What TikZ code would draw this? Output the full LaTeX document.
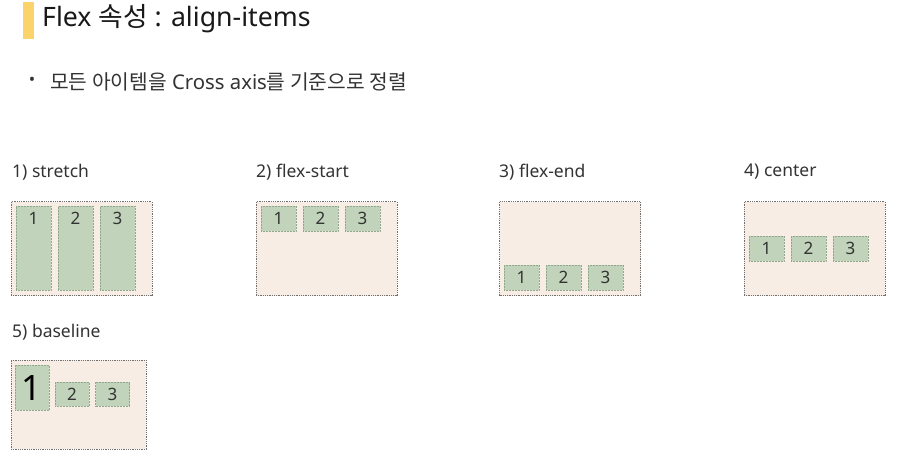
\documentclass[tikz,border=0pt]{standalone}
\usepackage{fontspec}
\setmainfont{Noto Sans}
\newfontfamily\kr{Noto Sans CJK KR}
\definecolor{boxfill}{HTML}{F8EDE5}
\definecolor{boxline}{HTML}{707070}
\definecolor{itemfill}{HTML}{C1D3BA}
\definecolor{itemline}{HTML}{8FA78A}
\definecolor{ink}{HTML}{333333}
\definecolor{titlebar}{HTML}{FAD36B}
\tikzset{
  container/.style={draw=boxline, densely dotted, line width=0.8pt, fill=boxfill,
    minimum width=141pt, minimum height=94pt, inner sep=0pt},
  item/.style={draw=itemline, densely dotted, line width=0.5pt, fill=itemfill,
    minimum width=35pt, minimum height=25pt, inner sep=0pt, text=ink, font=\fontsize{17}{17}\selectfont},
  caption/.style={anchor=west, inner sep=0pt, text=ink, font=\fontsize{17.5}{19}\selectfont}
}
\begin{document}
\begin{tikzpicture}[x=1pt, y=-1pt]
\useasboundingbox[fill=white] (0,0) rectangle (900,459);
% title
\fill[titlebar] (23,2) rectangle (34,39);
\node[anchor=west, inner sep=0pt, text=black!90, font=\fontsize{26.7}{28}\selectfont] (title) at (42,19) {Flex {\kr 속성} : align-items};
\node[inner sep=0pt, text=ink, font=\fontsize{17}{20}\selectfont] (dot) at (32,81) {•};
\node[anchor=west, inner sep=0pt, text=ink, font=\fontsize{20.3}{22}\selectfont] (intro) at (50,82) {{\kr 모든 아이템을} Cross axis{\kr 를 기준으로 정렬}};
% captions
\node[caption] (cap1) at (12,172) {1) stretch};
\node[caption] (cap2) at (256,172) {2) flex-start};
\node[caption] (cap3) at (499,172) {3) flex-end};
\node[caption] (cap4) at (744,172) {4) center};
\node[caption] (cap5) at (12,332) {5) baseline};
% containers
\node[container] (stretch) at (81.5,248.5) {};
\node[container] (start) at (326.5,248.5) {};
\node[container] (end) at (570,248.5) {};
\node[container] (center) at (814.5,248.5) {};
\node[container, minimum width=135pt, minimum height=89pt] (base) at (78.5,404.5) {};
% items
\foreach \i/\x in {1/33.5, 2/75.5, 3/117.5} {
  \node[item, minimum height=84pt, text depth=60pt] (stretch\i) at (\x,248) {\i};
}
\foreach \i/\x in {1/278.5, 2/320.5, 3/362.5} {
  \node[item] (start\i) at (\x,218.5) {\i};
}
\foreach \i/\x in {1/521.5, 2/563.5, 3/605.5} {
  \node[item] (end\i) at (\x,277.5) {\i};
}
\foreach \i/\x in {1/766.5, 2/808.5, 3/850.5} {
  \node[item] (center\i) at (\x,248.5) {\i};
}
\node[item, minimum width=34pt, minimum height=45pt, font=\fontsize{35}{35}\selectfont, text=black] (base1) at (32,387.5) {1};
\node[item, minimum width=34pt, minimum height=24pt] (base2) at (72,394) {2};
\node[item, minimum width=34pt, minimum height=24pt] (base3) at (112.5,394) {3};
\end{tikzpicture}
\end{document}
